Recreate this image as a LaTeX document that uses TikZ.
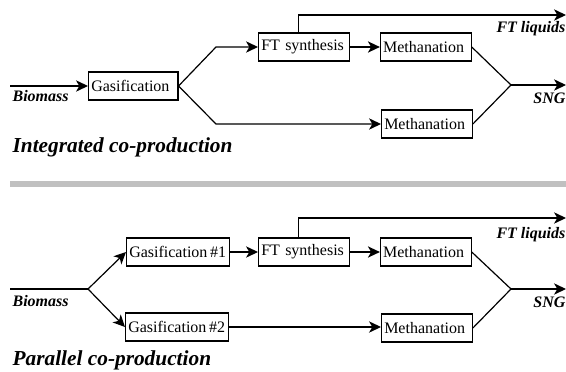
\documentclass[tikz,border=0pt]{standalone}
\usepackage{fontspec}
\setmainfont{Liberation Serif}[
  BoldFont={Liberation Serif Bold},
  ItalicFont={Liberation Serif Italic},
  BoldItalicFont={Liberation Serif Bold Italic}]
\usetikzlibrary{arrows.meta, positioning}
\definecolor{divider}{HTML}{C0C0C0}

\begin{document}
\begin{tikzpicture}[x=0.75pt, y=-0.75pt, line width=0.9pt, >={Stealth[length=9pt, width=8.5pt, inset=2.5pt]},
    node distance=22.5pt,
    unit/.style={draw, anchor=west, align=left, minimum height=21pt, inner xsep=2pt, inner ysep=0pt,
      text width=64pt, font=\fontsize{12}{14}\selectfont},
    stream/.style={inner sep=0pt, font=\fontsize{12}{14}\selectfont\bfseries\itshape},
    caption/.style={inner sep=0pt, anchor=base west, font=\fontsize{16}{19}\selectfont\bfseries\itshape}]
  \useasboundingbox (0,0) rectangle (566,371);

  % integrated co-production
  \node[unit, text width=63pt] (gas) at (88,86) {Gasification};
  \node[unit] (ft) at (258,47) {FT synthesis};
  \node[unit, right=of ft] (methA) {Methanation};
  \node[unit] (methB) at (381,124) {Methanation};

  \coordinate (bioA) at (10,86);
  \coordinate (upA) at (216,47);
  \coordinate (downA) at (216,124);
  \coordinate (mergeA) at (511,85);
  \coordinate (sngA) at (566,85);
  \coordinate (liqA) at (566,15);

  \draw[->] (bioA) -- (gas);
  \draw[->] (gas.east) -- (upA) -- (ft);
  \draw[->] (gas.east) -- (downA) -- (methB);
  \draw[->] (ft) -- (methA);
  \draw[->] ([xshift=-4pt]ft.north) |- (liqA);
  \draw (methA.east) -- (mergeA) -- (methB.east);
  \draw[->] (mergeA) -- (sngA);

  \node[stream, anchor=base west] (bioAl) at (12,101) {Biomass};
  \node[stream, anchor=base east] (liqAl) at (566,32) {FT liquids};
  \node[stream, anchor=base east] (sngAl) at (566,103) {SNG};
  \node[caption] (capA) at (12,152) {Integrated co-production};

  \fill[divider] (10,181) rectangle (566,187);

  % parallel co-production
  \node[unit, text width=73pt] (gas1) at (126,252) {Gasification\,\#1};
  \node[unit, text width=73pt] (gas2) at (125,327) {Gasification\,\#2};
  \node[unit] (ft2) at (258,252) {FT synthesis};
  \node[unit, right=of ft2] (methC) {Methanation};
  \node[unit] (methD) at (381,328) {Methanation};

  \coordinate (bioB) at (10,289);
  \coordinate (forkB) at (88,289);
  \coordinate (mergeB) at (511,289);
  \coordinate (sngB) at (566,289);
  \coordinate (liqB) at (566,218);

  \draw (bioB) -- (forkB);
  \draw[->] (forkB) -- (gas1.west);
  \draw[->] (forkB) -- (gas2.west);
  \draw[->] (gas1) -- (ft2);
  \draw[->] (ft2) -- (methC);
  \draw[->] (gas2.east) -- (gas2.east -| methD.west);
  \draw[->] ([xshift=-4pt]ft2.north) |- (liqB);
  \draw (methC.east) -- (mergeB) -- (methD.east);
  \draw[->] (mergeB) -- (sngB);

  \node[stream, anchor=base west] (bioBl) at (12,306) {Biomass};
  \node[stream, anchor=base east] (liqBl) at (566,238) {FT liquids};
  \node[stream, anchor=base east] (sngBl) at (566,307) {SNG};
  \node[caption] (capB) at (12,365) {Parallel co-production};
\end{tikzpicture}
\end{document}
